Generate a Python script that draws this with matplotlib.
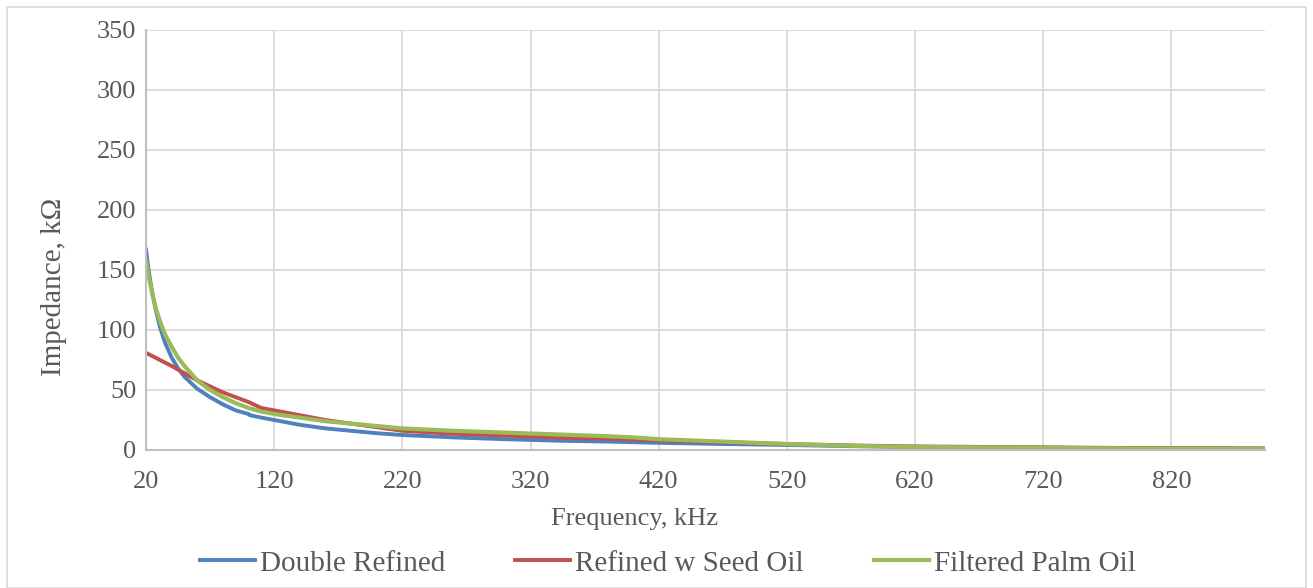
import matplotlib
matplotlib.use("Agg")
import matplotlib.pyplot as plt
from matplotlib.patches import Rectangle

plt.rcParams["font.family"] = ["Liberation Serif", "DejaVu Serif"]

# frequency (kHz) and impedance (kOhm)
freq_blue = [20, 22, 25, 28, 31, 35, 40, 45, 50, 60, 70, 80, 90, 100, 101, 110, 120, 140, 160,
             180, 200, 220, 260, 300, 340, 380, 420, 470, 520, 570, 620, 670, 720, 770, 820, 893]
double_refined = [167, 150, 130, 115, 102, 89, 77, 68, 61, 51, 44, 38, 33, 30, 29, 27, 25, 21,
                  18, 16, 14, 12.5, 10.5, 9, 7.8, 7, 6, 5, 4.2, 3.2, 2.5, 2.2, 1.9, 1.6, 1.4, 1.2]

freq_red = [20, 40, 60, 80, 100, 110, 120, 140, 160, 180, 200, 220, 260, 300, 340, 350,
            380, 420, 470, 520, 570, 620, 670, 720, 770, 820, 893]
refined_seed = [81, 70, 58, 48, 40, 35, 33, 29, 25, 22, 19, 16, 13.5, 12, 10.5, 10,
                9.5, 8, 6.5, 5, 3.8, 3, 2.6, 2.2, 1.8, 1.5, 1.3]

freq_green = [20, 22, 25, 28, 31, 35, 40, 45, 50, 60, 70, 80, 90, 100, 110, 120, 140, 160, 180,
              200, 220, 260, 300, 340, 380, 400, 420, 470, 520, 570, 620, 670, 720, 770, 820, 893]
filtered_palm = [158, 145, 130, 117, 107, 96, 86, 77, 70, 58, 50, 44, 39, 35, 32, 30, 27, 24, 22,
                 20, 18, 16, 14.5, 13, 11.5, 10.5, 9, 7, 5, 3.5, 2.5, 2.2, 1.8, 1.4, 1.2, 1.0]

xticks = [20, 120, 220, 320, 420, 520, 620, 720, 820]
yticks = [0, 50, 100, 150, 200, 250, 300, 350]

txt = "#595959"
fig = plt.figure(figsize=(13.13, 5.88), dpi=100)
ax = fig.add_axes([0.1112, 0.2347, 0.8522, 0.7143])

ax.plot(freq_blue, double_refined, color="#4f81bd", lw=2.8, label="Double Refined")
ax.plot(freq_red, refined_seed, color="#c0504d", lw=2.8, label="Refined w Seed Oil")
ax.plot(freq_green, filtered_palm, color="#9bbb59", lw=3.0, label="Filtered Palm Oil")

ax.set_xlim(20, 893)
ax.set_ylim(0, 350)
ax.set_xticks(xticks)
ax.set_yticks(yticks)
ax.grid(True, color="#d9d9d9", lw=1.3)
ax.set_axisbelow(True)
for s in ["top", "right"]:
    ax.spines[s].set_visible(False)
for s in ["left", "bottom"]:
    ax.spines[s].set_color("#bfbfbf")
    ax.spines[s].set_linewidth(1.5)
ax.tick_params(length=0, labelsize=19, colors=txt)
ax.tick_params(axis="y", pad=7)
ax.tick_params(axis="x", pad=15)

ax.set_xlabel("Frequency, kHz", fontsize=19, color=txt, va="center")
ax.xaxis.set_label_coords(0.437, -0.165)
ax.set_ylabel("Impedance, k\u03a9", fontsize=21, color=txt, va="center")
ax.yaxis.set_label_coords(-0.082, 0.388)

ax.legend(loc="center", bbox_to_anchor=(0.4665, -0.27), ncol=3, frameon=False,
          fontsize=21, labelcolor=txt, handlelength=1.88, handletextpad=0.17,
          columnspacing=2.4)

fig.patches.append(Rectangle((0.005, 0.0), 0.99, 0.988, transform=fig.transFigure,
                             fill=False, edgecolor="#d9d9d9", lw=1.2))

fig.savefig("out.png", dpi=100)
